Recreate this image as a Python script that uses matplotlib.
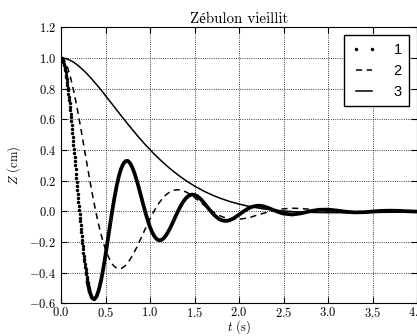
import numpy as np
import matplotlib
matplotlib.use('Agg')
import matplotlib.pyplot as plt
from matplotlib.ticker import FuncFormatter

# curve 1, early samples (plotted as dots, dt = 0.004 s)
z1_dots = [1.000, 0.999, 0.998, 0.995, 0.991, 0.985, 0.979, 0.972, 0.963, 0.954,
           0.943, 0.932, 0.919, 0.906, 0.892, 0.876, 0.860, 0.843, 0.826, 0.807,
           0.788, 0.768, 0.748, 0.726, 0.705, 0.682, 0.659, 0.636, 0.612, 0.588,
           0.563, 0.538, 0.512, 0.486, 0.460, 0.434, 0.408, 0.381, 0.354, 0.327,
           0.300, 0.273, 0.246, 0.219, 0.193, 0.166, 0.139, 0.113, 0.086, 0.060,
           0.034, 0.009, -0.017, -0.042, -0.066, -0.091, -0.115, -0.138, -0.161, -0.184,
           -0.206, -0.227, -0.248, -0.269, -0.289, -0.308, -0.327, -0.345, -0.362, -0.379,
           -0.396, -0.411, -0.426, -0.440, -0.454, -0.467, -0.479, -0.490, -0.501, -0.511,
           -0.520]

# all curves on a common time grid: 0..2.5 s every 0.025 s, then 2.6..4.0 s every 0.1 s
z1 = [1.000, 0.977, 0.913, 0.812, 0.682, 0.531, 0.368, 0.199, 0.034, -0.120,
      -0.259, -0.375, -0.467, -0.530, -0.566, -0.574, -0.555, -0.513, -0.452, -0.374,
      -0.285, -0.190, -0.094, 0.000, 0.087, 0.164, 0.228, 0.277, 0.310, 0.327,
      0.329, 0.315, 0.288, 0.250, 0.204, 0.152, 0.097, 0.042, -0.011, -0.060,
      -0.103, -0.138, -0.164, -0.181, -0.189, -0.188, -0.178, -0.161, -0.138, -0.111,
      -0.081, -0.049, -0.017, 0.013, 0.040, 0.064, 0.083, 0.097, 0.106, 0.109,
      0.107, 0.101, 0.090, 0.076, 0.060, 0.042, 0.024, 0.006, -0.011, -0.026,
      -0.039, -0.050, -0.057, -0.061, -0.063, -0.061, -0.057, -0.050, -0.042, -0.032,
      -0.022, -0.012, -0.001, 0.008, 0.017, 0.024, 0.030, 0.033, 0.036, 0.036,
      0.035, 0.032, 0.028, 0.023, 0.017, 0.011, 0.005, 0.000, -0.006, -0.011,
      -0.015,
      -0.021, -0.013, 0.001, 0.010, 0.011, 0.005, -0.003, -0.007, -0.006, -0.001,
      0.003, 0.004, 0.003, 0.000, -0.002]
z2 = [1.000, 0.992, 0.970, 0.935, 0.888, 0.831, 0.765, 0.692, 0.615, 0.533,
      0.449, 0.365, 0.281, 0.199, 0.119, 0.044, -0.027, -0.092, -0.151, -0.203,
      -0.249, -0.287, -0.318, -0.343, -0.360, -0.370, -0.375, -0.373, -0.365, -0.353,
      -0.336, -0.315, -0.291, -0.264, -0.236, -0.205, -0.174, -0.142, -0.111, -0.080,
      -0.050, -0.021, 0.005, 0.030, 0.053, 0.073, 0.090, 0.105, 0.117, 0.127,
      0.134, 0.138, 0.140, 0.140, 0.138, 0.133, 0.127, 0.120, 0.111, 0.101,
      0.090, 0.079, 0.067, 0.055, 0.044, 0.032, 0.021, 0.010, 0.000, -0.010,
      -0.018, -0.026, -0.033, -0.038, -0.043, -0.047, -0.050, -0.052, -0.052, -0.053,
      -0.052, -0.050, -0.048, -0.045, -0.042, -0.039, -0.035, -0.030, -0.026, -0.022,
      -0.017, -0.013, -0.009, -0.004, -0.001, 0.003, 0.006, 0.009, 0.012, 0.014,
      0.016,
      0.020, 0.018, 0.013, 0.007, 0.000, -0.004, -0.007, -0.007, -0.006, -0.004,
      -0.001, 0.001, 0.002, 0.003, 0.003]
z3 = [1.000, 0.999, 0.996, 0.992, 0.985, 0.978, 0.969, 0.958, 0.947, 0.934,
      0.921, 0.907, 0.892, 0.876, 0.860, 0.843, 0.826, 0.809, 0.791, 0.773,
      0.754, 0.736, 0.717, 0.699, 0.680, 0.661, 0.643, 0.624, 0.606, 0.588,
      0.569, 0.552, 0.534, 0.517, 0.499, 0.482, 0.466, 0.449, 0.433, 0.418,
      0.402, 0.387, 0.372, 0.358, 0.344, 0.330, 0.317, 0.304, 0.291, 0.279,
      0.267, 0.255, 0.244, 0.233, 0.222, 0.212, 0.202, 0.192, 0.183, 0.174,
      0.165, 0.157, 0.149, 0.141, 0.133, 0.126, 0.119, 0.113, 0.106, 0.100,
      0.094, 0.088, 0.083, 0.078, 0.073, 0.068, 0.063, 0.059, 0.055, 0.051,
      0.047, 0.044, 0.040, 0.037, 0.034, 0.031, 0.028, 0.026, 0.023, 0.021,
      0.018, 0.016, 0.014, 0.012, 0.011, 0.009, 0.008, 0.006, 0.005, 0.003,
      0.002,
      -0.002, -0.005, -0.007, -0.008, -0.009, -0.009, -0.009, -0.009, -0.008, -0.008,
      -0.007, -0.006, -0.006, -0.005, -0.004]
labels = ['1', '2', '3']

t_dots = np.arange(len(z1_dots)) * 0.004
t = np.concatenate([np.arange(101) * 0.025, 2.6 + np.arange(15) * 0.1])

plt.rcParams['font.family'] = ['cmr10', 'Liberation Serif']
plt.rcParams['mathtext.fontset'] = 'cm'
plt.rcParams['axes.formatter.use_mathtext'] = True
plt.rcParams['font.size'] = 9

fig = plt.figure(figsize=(4.17, 3.36), dpi=100)
ax = fig.add_axes([61/417, 1-303.3/336, 356/417, 276/336])

# curve 1: separate dots while it falls fast, thick line once they merge
ax.plot(t_dots, z1_dots, ls='none', marker='o', ms=2.5, mew=0, color='k', label=labels[0])
ax.plot(t[12:], z1[12:], color='k', lw=2.7)
ax.plot(t, z2, color='k', lw=1.1, ls=(0, (4, 3)), label=labels[1])
ax.plot(t, z3, color='k', lw=1.1, label=labels[2])

ax.set_xlim(0, 4)
ax.set_ylim(-0.6, 1.2)
ax.set_xticks(np.arange(0, 4.01, 0.5))
ax.set_yticks(np.arange(-0.6, 1.21, 0.2))
fmt = FuncFormatter(lambda v, p: '$%.1f$' % v)
ax.xaxis.set_major_formatter(fmt)
ax.yaxis.set_major_formatter(fmt)
ax.grid(True, ls=':', lw=0.6, color='k')
ax.tick_params(direction='in', top=True, right=True, length=4, width=0.8)
ax.tick_params(axis='x', pad=2)

ax.set_title('Zébulon vieillit', pad=3)
ax.set_xlabel('$t$ (s)', labelpad=-1)
ax.set_ylabel('$Z$ (cm)')

leg = ax.legend(loc='upper right', numpoints=2, prop={'family': 'Liberation Sans', 'size': 10.5},
                fancybox=False, edgecolor='k', framealpha=1, borderaxespad=0.55,
                handlelength=1.7, handletextpad=1.2, labelspacing=0.5, borderpad=0.5)
leg.get_frame().set_linewidth(1.0)

fig.savefig('out.png', dpi=100)
